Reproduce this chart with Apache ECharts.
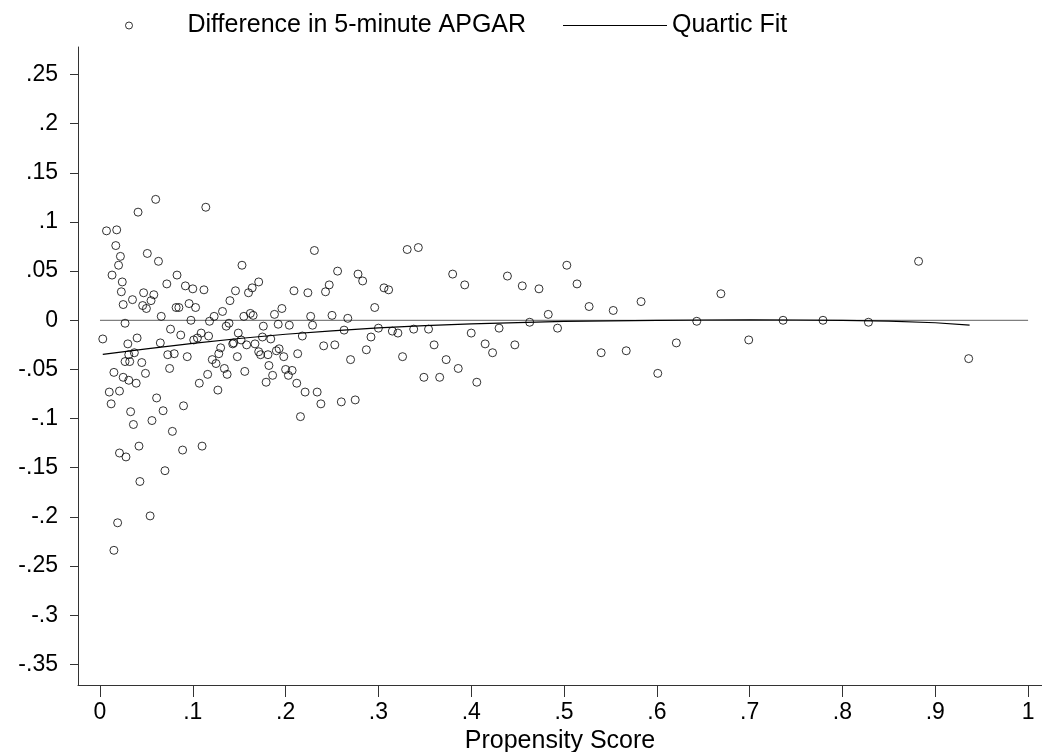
<!DOCTYPE html>
<html>
<head>
<meta charset="utf-8">
<script src="https://cdn.jsdelivr.net/npm/echarts@6/dist/echarts.min.js"></script>
<style>
html, body { margin: 0; padding: 0; background: #fff; }
#main { width: 1042px; height: 752px; }
</style>
</head>
<body>
<div id="main"></div>
<script>
// scatter: propensity score vs difference in 5-minute APGAR
const propensity = [
  0.060, 0.041, 0.114, 0.007, 0.018, 0.017, 0.051, 0.022, 0.020, 0.063, 0.013, 0.083, 0.024, 0.072, 0.092, 0.100, 0.112,
  0.023, 0.047, 0.058, 0.055, 0.035, 0.025, 0.046, 0.050, 0.082, 0.085, 0.096, 0.103, 0.066, 0.027, 0.076, 0.098, 0.118,
  0.003, 0.040, 0.030, 0.087, 0.065, 0.101, 0.105, 0.109, 0.117, 0.031, 0.037, 0.027, 0.032, 0.045, 0.073, 0.080, 0.094,
  0.015, 0.025, 0.031, 0.039, 0.049, 0.075, 0.107, 0.116, 0.010, 0.021, 0.012, 0.061, 0.033, 0.068, 0.090, 0.056, 0.036,
  0.078, 0.021, 0.028, 0.042, 0.089, 0.110, 0.070, 0.043, 0.054, 0.019, 0.015,
  0.231, 0.153, 0.256, 0.146, 0.164, 0.160, 0.171, 0.209, 0.224, 0.243, 0.247, 0.140, 0.132, 0.123, 0.139, 0.136, 0.155,
  0.162, 0.165, 0.176, 0.188, 0.196, 0.192, 0.204, 0.227, 0.229, 0.250, 0.149, 0.143, 0.144, 0.152, 0.158, 0.175, 0.184,
  0.167, 0.130, 0.218, 0.241, 0.253, 0.193,
  0.128, 0.171, 0.173, 0.181, 0.190, 0.198, 0.213, 0.148, 0.121, 0.125, 0.134, 0.137, 0.156, 0.182, 0.200, 0.207, 0.203,
  0.186, 0.179, 0.212, 0.127, 0.221, 0.234, 0.238, 0.216,
  0.331, 0.343, 0.278, 0.283, 0.306, 0.311, 0.380, 0.393, 0.439, 0.455, 0.296, 0.267, 0.263, 0.300, 0.315, 0.321, 0.338,
  0.354, 0.400, 0.430, 0.463, 0.292, 0.287, 0.360, 0.415, 0.423, 0.447, 0.270, 0.326, 0.373, 0.386, 0.349, 0.366, 0.406,
  0.260, 0.275,
  0.473, 0.503, 0.514, 0.527, 0.553, 0.583, 0.669, 0.882, 0.483, 0.493, 0.643, 0.736, 0.779, 0.828, 0.540, 0.567, 0.621,
  0.699, 0.601, 0.936
]
const apgarDiff = [
  0.123, 0.110, 0.115, 0.091, 0.092, 0.076, 0.068, 0.065, 0.056, 0.060, 0.046, 0.046, 0.039, 0.037, 0.035, 0.032, 0.031,
  0.029, 0.028, 0.026, 0.020, 0.021, 0.016, 0.015, 0.012, 0.013, 0.013, 0.017, 0.013, 0.004, -0.003, -0.009, 0.000, -0.001,
  -0.019, -0.018, -0.024, -0.015, -0.023, -0.020, -0.018, -0.013, -0.016, -0.035, -0.033, -0.042, -0.042, -0.043, -0.035, -0.034, -0.037,
  -0.053, -0.058, -0.061, -0.064, -0.054, -0.049, -0.064, -0.055, -0.073, -0.072, -0.085, -0.079, -0.093, -0.092, -0.087, -0.102, -0.106,
  -0.113, -0.135, -0.139, -0.128, -0.132, -0.128, -0.153, -0.164, -0.199, -0.206, -0.234,
  0.071, 0.056, 0.050, 0.030, 0.033, 0.028, 0.039, 0.030, 0.028, 0.029, 0.036, 0.020, 0.009, 0.004, -0.003, -0.006, 0.004,
  0.007, 0.005, -0.006, 0.006, 0.012, -0.004, -0.005, 0.004, -0.005, 0.005, -0.013, -0.024, -0.023, -0.020, -0.025, -0.017, -0.019,
  -0.024, -0.028, -0.016, -0.026, -0.025, -0.029,
  -0.034, -0.032, -0.035, -0.035, -0.031, -0.037, -0.034, -0.037, -0.040, -0.044, -0.049, -0.055, -0.052, -0.046, -0.050, -0.051, -0.056,
  -0.056, -0.063, -0.064, -0.071, -0.073, -0.073, -0.085, -0.098,
  0.072, 0.074, 0.047, 0.040, 0.033, 0.031, 0.047, 0.036, 0.045, 0.035, 0.013, 0.002, -0.010, -0.008, -0.011, -0.013, -0.009,
  -0.009, -0.013, -0.008, -0.002, -0.017, -0.030, -0.025, -0.024, -0.033, -0.025, -0.040, -0.037, -0.040, -0.049, -0.058, -0.058, -0.063,
  -0.083, -0.081,
  0.032, 0.056, 0.037, 0.014, 0.010, 0.019, 0.027, 0.060, 0.006, -0.008, -0.001, 0.000, 0.000, -0.002, -0.033, -0.031, -0.023,
  -0.020, -0.054, -0.039
]

// quartic fit
const fitX = [0.003, 0.05, 0.1, 0.15, 0.2, 0.25, 0.3, 0.35, 0.4, 0.45, 0.5, 0.55, 0.6, 0.65, 0.7, 0.75, 0.8, 0.85, 0.9, 0.937]
const fitY = [-0.0346, -0.029, -0.0235, -0.0185, -0.0142, -0.0107, -0.0078, -0.0055, -0.0037, -0.0023, -0.0012, -0.0005, 0.0, 0.0003, 0.0004, 0.0003, -0.0001, -0.0009, -0.0025, -0.005]

// zero reference line
const refX = [0, 1]
const refY = [0, 0]

const xTicks = [0, 0.1, 0.2, 0.3, 0.4, 0.5, 0.6, 0.7, 0.8, 0.9, 1]
const xTickLabels = ['0', '.1', '.2', '.3', '.4', '.5', '.6', '.7', '.8', '.9', '1']
const yTicks = [-0.35, -0.3, -0.25, -0.2, -0.15, -0.1, -0.05, 0, 0.05, 0.1, 0.15, 0.2, 0.25]
const yTickLabels = ['-.35', '-.3', '-.25', '-.2', '-.15', '-.1', '-.05', '0', '.05', '.1', '.15', '.2', '.25']

const FONT = '"Liberation Sans", Arial, sans-serif'

function zip (a, b) {
  return a.map((v, i) => [v, b[i]])
}

function labelFor (ticks, labels) {
  return function (v) {
    let best = 0
    for (let i = 1; i < ticks.length; i++) {
      if (Math.abs(ticks[i] - v) < Math.abs(ticks[best] - v)) best = i
    }
    return labels[best]
  }
}

let myChart = echarts.init(document.getElementById('main'), null, { renderer: 'canvas' })
myChart.setOption({
  animation: false,
  backgroundColor: '#fff',
  textStyle: { fontFamily: FONT },
  grid: {
    left: 78,
    right: 0,
    top: 47,
    bottom: 67,
    containLabel: false,
    outerBoundsMode: 'none'
  },
  legend: [
    {
      data: [{
        name: 'Difference in 5-minute APGAR',
        icon: 'circle',
        itemStyle: { color: '#fff', borderColor: '#000', borderWidth: 1 }
      }],
      left: 120,
      top: 8,
      itemWidth: 7,
      itemHeight: 7,
      selectedMode: false,
      textStyle: { fontSize: 25, color: '#000', fontFamily: FONT, padding: [0, 0, 0, 50] }
    },
    {
      data: [{ name: 'Quartic Fit', icon: 'rect', itemStyle: { color: '#000' } }],
      left: 558,
      top: 8,
      itemWidth: 104,
      itemHeight: 1,
      selectedMode: false,
      textStyle: { fontSize: 25, color: '#000', fontFamily: FONT }
    }
  ],
  xAxis: {
    type: 'value',
    min: -0.0237,
    max: 1.015,
    name: 'Propensity Score',
    nameLocation: 'middle',
    nameGap: 35,
    nameTextStyle: { fontSize: 25, color: '#000', fontFamily: FONT },
    splitLine: { show: false },
    axisLine: { show: true, onZero: false, lineStyle: { color: '#333', width: 1 } },
    axisTick: { show: true, customValues: xTicks, length: 12, lineStyle: { color: '#333' } },
    axisLabel: {
      customValues: xTicks,
      formatter: labelFor(xTicks, xTickLabels),
      fontSize: 23,
      color: '#000',
      margin: 16,
      fontFamily: FONT
    }
  },
  yAxis: {
    type: 'value',
    min: -0.371,
    max: 0.278,
    splitLine: { show: false },
    axisLine: { show: true, onZero: false, lineStyle: { color: '#333', width: 1 } },
    axisTick: { show: true, customValues: yTicks, length: 8, lineStyle: { color: '#333' } },
    axisLabel: {
      customValues: yTicks,
      formatter: labelFor(yTicks, yTickLabels),
      fontSize: 23,
      color: '#000',
      margin: 20,
      fontFamily: FONT
    }
  },
  series: [
    {
      name: 'zero',
      type: 'line',
      data: zip(refX, refY),
      symbol: 'none',
      silent: true,
      z: 1,
      lineStyle: { color: '#7f7f7f', width: 1.3 }
    },
    {
      name: 'Difference in 5-minute APGAR',
      type: 'scatter',
      data: zip(propensity, apgarDiff),
      symbol: 'circle',
      symbolSize: 8,
      z: 3,
      itemStyle: { color: 'rgba(0,0,0,0)', borderColor: '#000', borderWidth: 1 }
    },
    {
      name: 'Quartic Fit',
      type: 'line',
      data: zip(fitX, fitY),
      symbol: 'none',
      z: 2,
      lineStyle: { color: '#000', width: 1.2 }
    }
  ]
})
</script>
</body>
</html>
